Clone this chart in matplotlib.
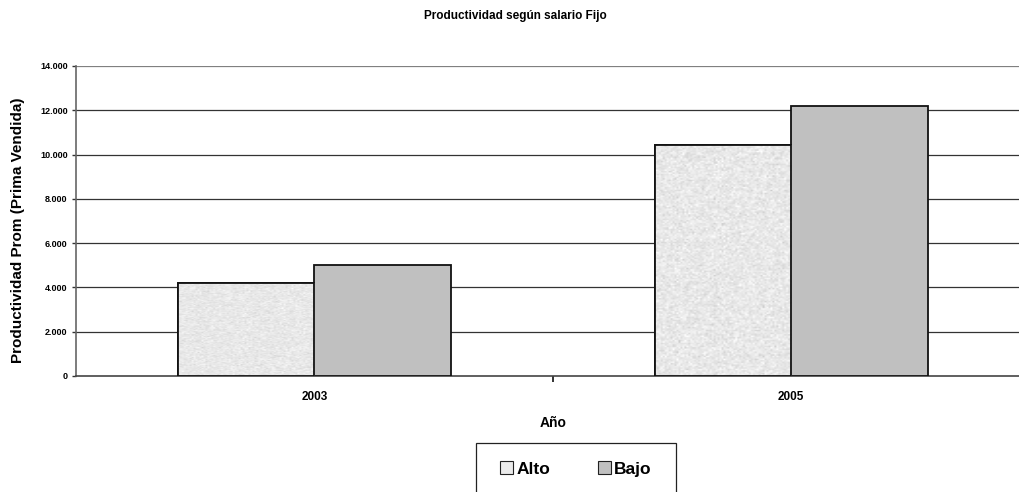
import numpy as np
import matplotlib.pyplot as plt
from matplotlib.patches import Patch, Rectangle

plt.rcParams["font.family"] = ["Liberation Sans", "DejaVu Sans"]
plt.rcParams["font.weight"] = "bold"

# Data
YEARS = ["2003", "2005"]
ALTO = [4200, 10430]
BAJO = [5000, 12180]
SERIES = ["Alto", "Bajo"]

ALTO_BASE = "#e8e8e8"
BAJO_COLOR = "#c0c0c0"

W, H = 1020, 492
fig = plt.figure(figsize=(W / 100, H / 100), dpi=100)
ax = fig.add_axes([0.0745, 0.2358, 0.935, 0.6301])

x = np.arange(len(YEARS))
width = 0.2866  # 150% gap between groups

bars_alto = ax.bar(x - width / 2, ALTO, width, color=ALTO_BASE,
                   edgecolor="#111111", linewidth=1.3, zorder=3)
bars_bajo = ax.bar(x + width / 2, BAJO, width, color=BAJO_COLOR,
                   edgecolor="#111111", linewidth=1.3, zorder=3)

# speckled texture on the "Alto" bars
rng = np.random.default_rng(7)
for rect in bars_alto:
    noise = rng.normal(0.91, 0.035, size=(160, 70))
    noise = np.clip(noise, 0.78, 1.0)
    im = ax.imshow(noise, cmap="gray", vmin=0, vmax=1, aspect="auto",
                   extent=(rect.get_x(), rect.get_x() + rect.get_width(),
                           0, rect.get_height()),
                   interpolation="bilinear", zorder=3.5)
    im.set_clip_path(rect)
    ax.add_patch(Rectangle((rect.get_x(), 0), rect.get_width(),
                           rect.get_height(), fill=False,
                           edgecolor="#111111", linewidth=1.3, zorder=4))

ax.set_xlim(-0.5, 1.5)
ax.set_ylim(0, 14000)
ax.set_aspect("auto")

yt = np.arange(0, 14001, 2000)
ax.set_yticks(yt)
ax.set_yticklabels(["0" if v == 0 else f"{v // 1000}.000" for v in yt],
                   fontsize=6.5, fontweight="bold")
ax.set_xticks(x)
ax.set_xticklabels(YEARS, fontsize=8.5, fontweight="bold")
ax.tick_params(axis="x", length=0, pad=11)
ax.tick_params(axis="y", length=3, width=1, color="#333333", pad=3)

# minor tick between categories
ax.set_xticks([0.5], minor=True)
ax.tick_params(axis="x", which="minor", length=4, width=1.2, color="#111111")

for v in yt[1:]:
    ax.axhline(v, color="#808080" if v == yt[-1] else "#333333",
               linewidth=0.9, zorder=1)

for side in ["top", "right"]:
    ax.spines[side].set_visible(False)
ax.spines["left"].set_color("#666666")
ax.spines["left"].set_linewidth(1.2)
ax.spines["bottom"].set_color("#444444")
ax.spines["bottom"].set_linewidth(1.2)

ax.set_ylabel("Productividad Prom (Prima Vendida)", fontsize=11,
              fontweight="bold")
ax.yaxis.set_label_coords(-0.053, 0.47)
ax.set_xlabel("Año", fontsize=10, fontweight="bold", labelpad=9)
fig.text(0.505, 0.967, "Productividad según salario Fijo", ha="center",
         va="center", fontsize=8.5, fontweight="bold")

# legend frame drawn separately; it runs off the bottom of the figure
fig.patches.append(Rectangle((476 / W, -0.05), 200 / W, 0.05 + 49 / H,
                             transform=fig.transFigure, fill=False,
                             edgecolor="#222222", linewidth=0.9))

handles = [Patch(facecolor="#ebebeb", edgecolor="#222222", linewidth=0.8),
           Patch(facecolor=BAJO_COLOR, edgecolor="#222222", linewidth=0.8)]
leg = fig.legend(handles, SERIES, loc="upper left", mode="expand",
                 bbox_to_anchor=(482 / W, 0, 188 / W, 1 - 443 / H), ncol=2,
                 frameon=False,
                 prop={"weight": "bold", "size": 12.5},
                 handlelength=0.75, handleheight=0.75, handletextpad=0.2,
                 borderpad=1.05, borderaxespad=0)

fig.savefig("out.png", dpi=100)
